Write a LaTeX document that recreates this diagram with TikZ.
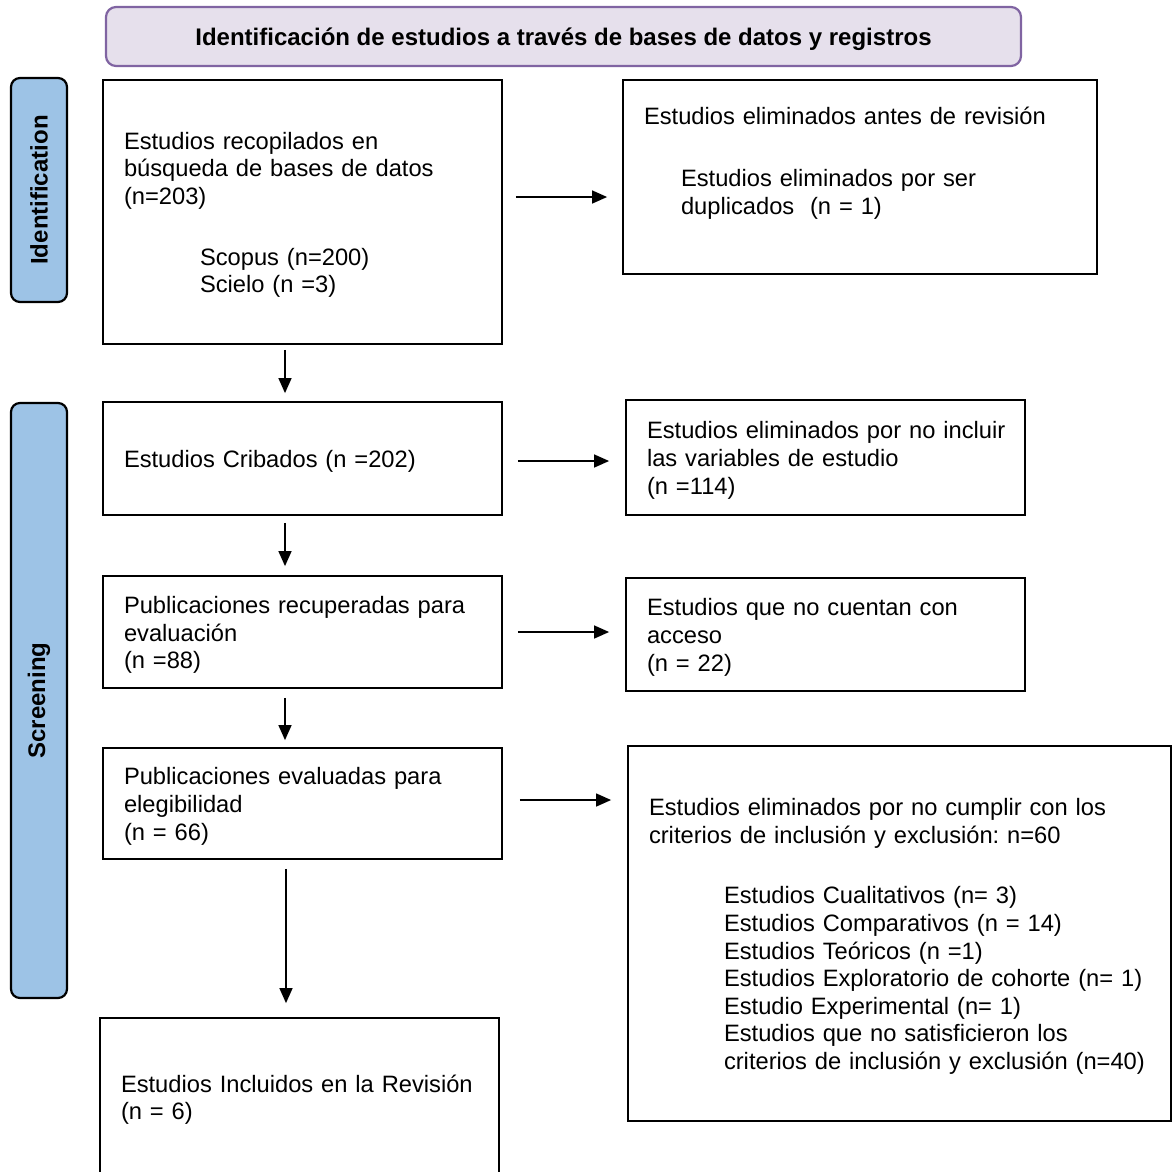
\documentclass[tikz,border=0pt]{standalone}
\usepackage{fontspec}
\setmainfont{Liberation Sans}
\usetikzlibrary{arrows.meta,positioning}
\definecolor{bannerfill}{HTML}{E6E0EC}
\definecolor{bannerline}{HTML}{8064A2}
\definecolor{phasefill}{HTML}{9DC3E6}
\newcommand{\indsub}{\hspace*{75pt}}
\tikzset{
    txt/.style={align=left, inner sep=0pt, text height=23pt, font=\frenchspacing\fontsize{23.7}{27.6}\selectfont},
    box/.style={txt, draw, line width=1.8pt, inner xsep=21pt, minimum width=399pt, text width=357pt},
    banner/.style={draw=bannerline, fill=bannerfill, line width=2.2pt, rounded corners=10pt, text height=23pt,
        minimum width=915pt, minimum height=59pt, font=\bfseries\fontsize{24}{27.6}\selectfont},
    phase/.style={draw, fill=phasefill, line width=2.2pt, rounded corners=9pt, rotate=90,
        minimum height=56pt, font=\bfseries\fontsize{24}{27.6}\selectfont},
    arr/.style={-{Triangle[length=15pt, width=13pt]}, line width=1.4pt, shorten <=15pt, shorten >=16pt},
}
\begin{document}
\begin{tikzpicture}[x=1pt, y=-1pt]
    \useasboundingbox (0,0) rectangle (1173,1171);
    % title and phases
    \node [banner] (title) at (563.5,36.5) {Identificación de estudios a través de bases de datos y registros};
    \node [phase, minimum width=224pt] (ident) at (39,190) {Identification};
    \node [phase, minimum width=595pt] (screen) at (39,700.5) {Screening};

    % left column
    \node [box, minimum height=264pt] (recop) at (302.5,212) {Estudios recopilados en\\búsqueda de bases de datos\\(n=203)\\[33pt]
        \hspace*{76pt}Scopus (n=200)\\\hspace*{76pt}Scielo (n =3)};
    \node [box, minimum height=113pt] (cribados) at (302.5,458.5) {Estudios Cribados (n =202)};
    \node [box, minimum height=112pt] (recup) at (302.5,632) {\mbox{Publicaciones recuperadas para}\\evaluación\\(n =88)};
    \node [box, minimum height=111pt] (evalu) at (302.5,803.5) {Publicaciones evaluadas para\\elegibilidad\\(n = 66)};
    \node [box, minimum height=158pt] (incl) at (299.5,1097) {Estudios Incluidos en la Revisión\\(n = 6)};

    % right column
    \node [box, minimum width=474pt, minimum height=194pt, text width=432pt] (elim) at (860,177) {};
    \node [txt, text width=432pt] (elimtxt) at ([yshift=16.5pt]elim.center) {Estudios eliminados antes de revisión\\[34pt]
        \hspace*{37pt}Estudios eliminados por ser\\\hspace*{37pt}duplicados\ \ (n = 1)};
    \node [box, minimum height=115pt] (novar) at (825.5,457.5) {\mbox{Estudios eliminados por no incluir}\\las variables de estudio\\(n =114)};
    \node [box, minimum height=113pt] (noacc) at (825.5,634.5) {Estudios que no cuentan con\\acceso\\(n = 22)};
    \node [box, minimum width=543pt, minimum height=375pt, text width=501pt] (excl) at (899.5,933.5) {\mbox{Estudios eliminados por no cumplir con los}\\criterios de inclusión y exclusión: n=60\\[33pt]
        \indsub Estudios Cualitativos (n= 3)\\
        \indsub Estudios Comparativos (n = 14)\\
        \indsub Estudios Teóricos (n =1)\\
        \indsub \mbox{Estudios Exploratorio de cohorte (n= 1)}\\
        \indsub Estudio Experimental (n= 1)\\
        \indsub Estudios que no satisficieron los\\
        \indsub \mbox{criterios de inclusión y exclusión (n=40)}};

    % arrows
    \draw [arr, shorten <=13pt, shorten >=15pt] ([yshift=15pt]recop.east) -- ([yshift=-20pt]elim.west);
    \draw [arr] ([yshift=-2.5pt]cribados.east) -- ([yshift=-3.5pt]novar.west);
    \draw [arr] (recup.east) -- ([yshift=2.5pt]noacc.west);
    \draw [arr, shorten <=17pt] ([yshift=3.5pt]evalu.east) -- ([yshift=133.5pt]excl.west);
    \draw [arr, shorten <=5pt, shorten >=8pt] ([xshift=-17.5pt]recop.south) -- ([xshift=-17.5pt]cribados.north);
    \draw [arr, shorten <=7pt, shorten >=9pt] ([xshift=-17.5pt]cribados.south) -- ([xshift=-17.5pt]recup.north);
    \draw [arr, shorten <=9pt, shorten >=7pt] ([xshift=-17.5pt]recup.south) -- ([xshift=-17.5pt]evalu.north);
    \draw [arr, shorten <=9pt, shorten >=14pt] ([xshift=-16.5pt]evalu.south) -- ([xshift=-13.5pt]incl.north);
\end{tikzpicture}
\end{document}
